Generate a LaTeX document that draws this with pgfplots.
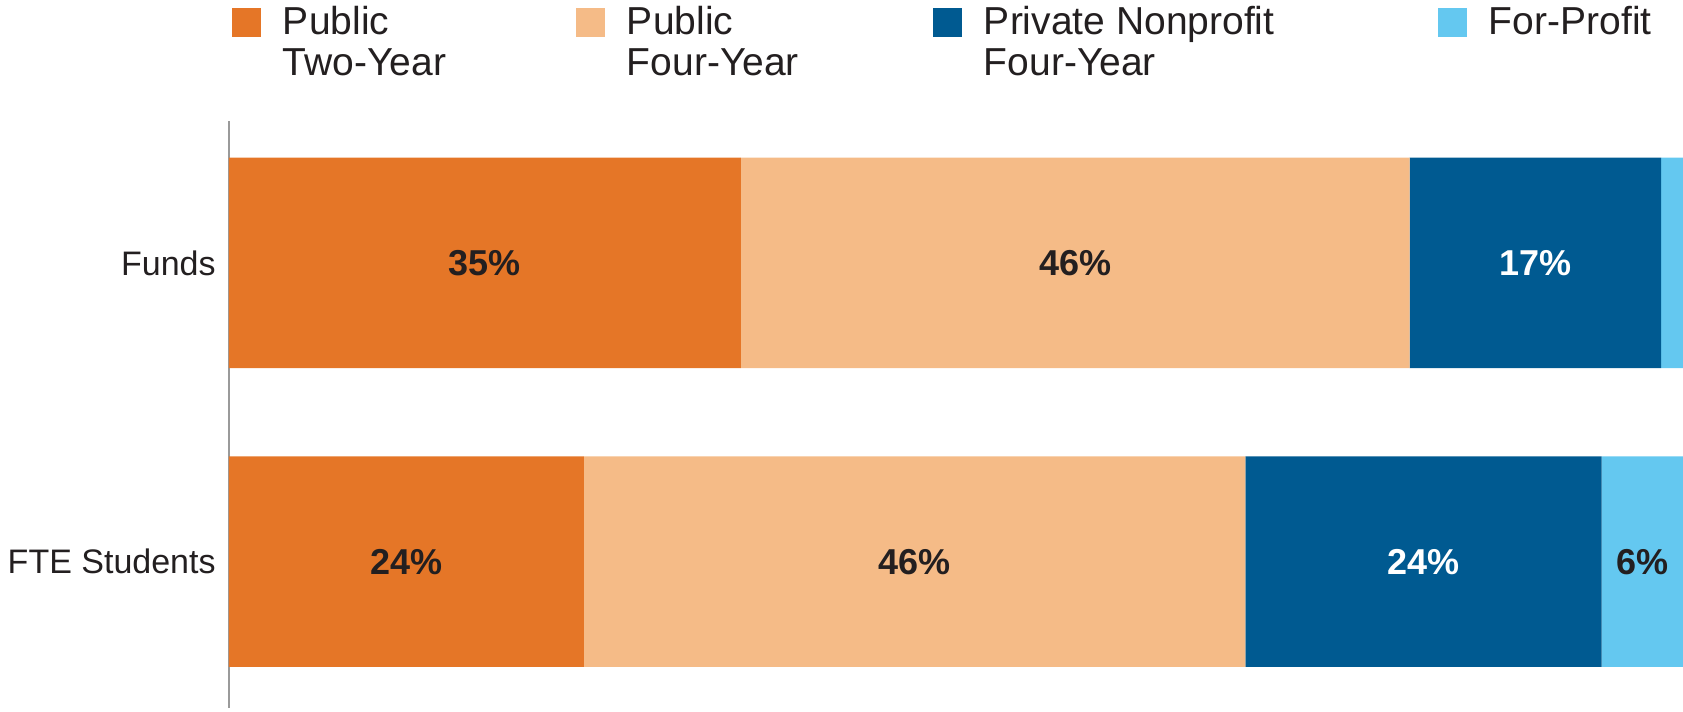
\documentclass[border=0pt]{standalone}
\usepackage{pgfplots}
\usepackage{pgfplotstable}
\pgfplotsset{compat=1.18}
\usepackage{fontspec}
\setmainfont{Liberation Sans}
\definecolor{cA}{HTML}{E57627}
\definecolor{cB}{HTML}{F5BB87}
\definecolor{cC}{HTML}{005A91}
\definecolor{cD}{HTML}{64C8F0}
\definecolor{txt}{HTML}{231F20}
\definecolor{axgray}{HTML}{9A9A9A}
\pgfplotstableread{
y a b c d la lb lc ld
1 35.2 46.0 17.3 1.5 35 46 17 0
0 24.4 45.5 24.5 5.6 24 46 24 6
}\datatable
\begin{document}
\begin{tikzpicture}
\begin{axis}[
  scale only axis, width=727pt, height=293.5pt,
  xbar stacked, bar width=0.705,
  xmin=0, xmax=100, ymin=-0.49, ymax=1.475,
  hide x axis,
  axis y line=left,
  y axis line style={-, draw=axgray, line width=1pt},
  ytick={0,1}, yticklabels={FTE Students, Funds},
  major tick length=0pt,
  yticklabel style={anchor=east, inner sep=0pt, xshift=-6.5pt, font=\fontsize{17}{20}\selectfont, text=txt},
  point meta=explicit symbolic,
  nodes near coords={\ifdim\pgfplotspointmeta pt>0.5pt \pgfplotspointmeta\%\fi},
  every node near coord/.append style={anchor=center, font=\fontsize{18}{20}\selectfont\bfseries},
  legend columns=4,
  legend style={at={([xshift=1.5pt,yshift=57.5pt]axis description cs:0,1)}, anchor=north west, draw=none, fill=none, inner sep=0pt, outer sep=0pt,
     font=\fontsize{19.5}{20.5}\selectfont, text=txt,
     nodes={inner sep=0pt, outer sep=0pt, anchor=west},
     /tikz/every odd column/.style={column sep=11pt},
     /tikz/every even column/.style={column sep=0pt}},
  legsq/.style={legend image code/.code={\fill[##1] (0pt,-2.1pt) rectangle (14.5pt,12.4pt);}},
  clip=false,
]
\addplot[fill=cA, draw=none, legsq, every node near coord/.append style={text=txt}] table[x=a, y=y, meta=la]{\datatable};
\addlegendentry{\parbox{146.5pt}{\strut Public\\\strut Two-Year}}
\addplot[fill=cB, draw=none, legsq, every node near coord/.append style={text=txt}] table[x=b, y=y, meta=lb]{\datatable};
\addlegendentry{\parbox{153pt}{\strut Public\\\strut Four-Year}}
\addplot[fill=cC, draw=none, legsq, every node near coord/.append style={text=white}] table[x=c, y=y, meta=lc]{\datatable};
\addlegendentry{\parbox{227pt}{\strut Private Nonprofit\\\strut Four-Year}}
\addplot[fill=cD, draw=none, legsq, every node near coord/.append style={text=txt}] table[x=d, y=y, meta=ld]{\datatable};
\addlegendentry{\parbox{90pt}{\strut For-Profit\\\strut}}
\coordinate (SW) at (rel axis cs:0,0);
\coordinate (NE) at (rel axis cs:1,1);
\end{axis}
\pgfresetboundingbox
\path[use as bounding box] ([xshift=-114.5pt,yshift=-2pt]SW) rectangle ([yshift=60.5pt]NE);
\end{tikzpicture}
\end{document}
